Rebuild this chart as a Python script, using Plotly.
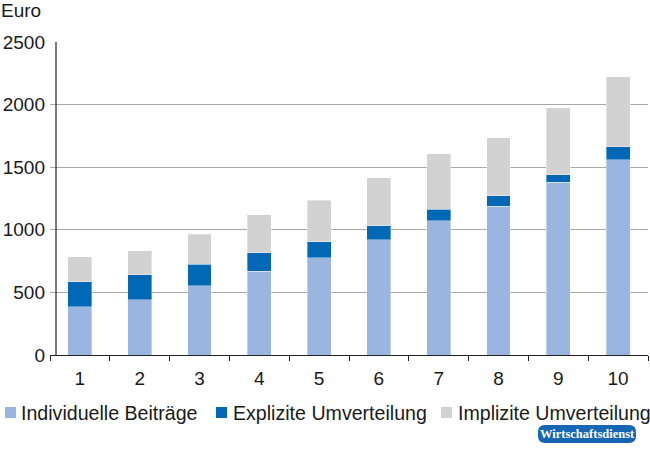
import plotly.graph_objects as go

categories = ["1", "2", "3", "4", "5", "6", "7", "8", "9", "10"]
individuelle = [386, 442, 552, 669, 778, 919, 1074, 1189, 1381, 1559]
explizite = [198, 200, 173, 149, 128, 115, 91, 85, 58, 106]
implizite = [202, 192, 240, 301, 331, 381, 442, 463, 536, 558]
series_names = ["Individuelle Beiträge", "Explizite Umverteilung", "Implizite Umverteilung"]
colors = ["#9ab5df", "#0068b4", "#d2d2d2"]
yticks = [0, 500, 1000, 1500, 2000, 2500]

W, H = 650, 452
L, R, T, B = 50, 2, 42, 97
PW, PH = W - L - R, H - T - B


def px(xp):
    return (xp - L) / PW


def py(yp):
    return (H - B - yp) / PH


FONT = "Liberation Sans, Arial, Helvetica, sans-serif"

fig = go.Figure()
for name, vals, col in zip(series_names, [individuelle, explizite, implizite], colors):
    fig.add_trace(go.Bar(
        x=categories, y=vals, name=name, width=0.4,
        marker=dict(color=col, line=dict(color="rgba(255,255,255,0.6)", width=0.6)),
        showlegend=False,
    ))

shapes = []
annotations = []

# y-axis line
shapes.append(dict(type="line", xref="paper", yref="y", x0=px(56), x1=px(56), y0=0, y1=2500,
                   line=dict(color="#222222", width=1.2), layer="above"))

# custom legend
legend_items = [(5, 19), (216, 231), (441, 456)]
for (sx, tx), name, col in zip(legend_items, series_names, colors):
    shapes.append(dict(type="rect", xref="paper", yref="paper",
                       x0=px(sx), x1=px(sx + 11), y0=py(418), y1=py(407),
                       fillcolor=col, line=dict(width=0)))
    annotations.append(dict(text=name, xref="paper", yref="paper", x=px(tx), y=py(412.5),
                            xanchor="left", yanchor="middle", showarrow=False,
                            font=dict(size=19.6, color="#1a1a1a", family=FONT)))

# Euro label
annotations.append(dict(text="Euro", xref="paper", yref="paper", x=px(-1), y=py(11),
                        xanchor="left", yanchor="middle", showarrow=False,
                        font=dict(size=19, color="#1a1a1a", family=FONT)))

# badge
bx0, bx1, by0, by1, r = 538, 636, 425, 443, 7


def badge_path():
    pts = [
        f"M {px(bx0 + r)},{py(by0)}",
        f"L {px(bx1 - r)},{py(by0)}",
        f"Q {px(bx1)},{py(by0)} {px(bx1)},{py(by0 + r)}",
        f"L {px(bx1)},{py(by1 - r)}",
        f"Q {px(bx1)},{py(by1)} {px(bx1 - r)},{py(by1)}",
        f"L {px(bx0 + r)},{py(by1)}",
        f"Q {px(bx0)},{py(by1)} {px(bx0)},{py(by1 - r)}",
        f"L {px(bx0)},{py(by0 + r)}",
        f"Q {px(bx0)},{py(by0)} {px(bx0 + r)},{py(by0)}",
        "Z",
    ]
    return " ".join(pts)


shapes.append(dict(type="path", xref="paper", yref="paper", path=badge_path(),
                   fillcolor="#1666b3", line=dict(width=0)))
annotations.append(dict(text="<b>Wirtschaftsdienst</b>", xref="paper", yref="paper",
                        x=px((bx0 + bx1) / 2), y=py((by0 + by1) / 2),
                        xanchor="center", yanchor="middle", showarrow=False,
                        font=dict(size=12.5, color="white", family="Liberation Serif, Times New Roman, serif")))

fig.update_layout(
    width=W, height=H,
    margin=dict(l=L, r=R, t=T, b=B, pad=0, autoexpand=False),
    barmode="stack",
    plot_bgcolor="white", paper_bgcolor="white",
    font=dict(family=FONT, size=19, color="#1a1a1a"),
    shapes=shapes, annotations=annotations,
    xaxis=dict(type="category", showline=True, linecolor="#222222", linewidth=1.2,
               ticks="outside", tickson="boundaries", ticklen=5, tickcolor="#222222",
               tickwidth=1, showgrid=False, zeroline=False, automargin=False,
               tickfont=dict(size=19, color="#1a1a1a"), ticklabelstandoff=6),
    yaxis=dict(range=[0, 2500], tickvals=yticks, showgrid=True, gridcolor="#a8a8a8",
               gridwidth=1, zeroline=False, showline=False, ticks="", automargin=False,
               tickfont=dict(size=19, color="#1a1a1a"), ticklabelstandoff=4),
)

fig.write_html(
    "out.html",
    config={"displayModeBar": False},
    post_script="document.body.style.margin='0px';document.body.style.padding='0px';",
)
